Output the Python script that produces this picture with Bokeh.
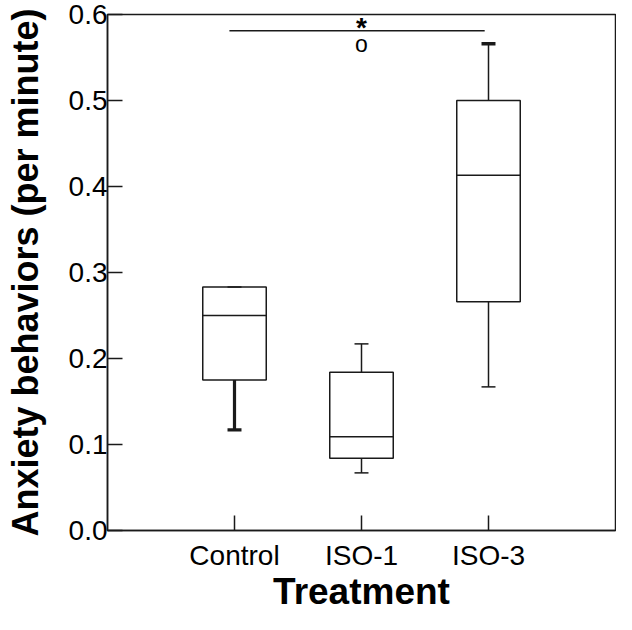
from bokeh.plotting import figure
from bokeh.models import FixedTicker, PrintfTickFormatter, Range1d
from bokeh.core.properties import value
from bokeh.embed import file_html
from bokeh.resources import INLINE

# ---- data ----
categories = ["Control", "ISO-1", "ISO-3"]
positions = [1, 2, 3]
lower_whisker = [0.117, 0.067, 0.167]
q1 = [0.175, 0.084, 0.266]
median = [0.250, 0.109, 0.413]
q3 = [0.283, 0.184, 0.500]
upper_whisker = [0.283, 0.217, 0.566]
outlier_pos = [2]
outlier_val = [0.566]
y_ticks = [0.0, 0.1, 0.2, 0.3, 0.4, 0.5, 0.6]
sig_start = [0.96]
sig_end = [2.97]
sig_level = [0.581]
sig_text = ["*"]
x_title = "Treatment"
y_title = "Anxiety behaviors (per minute)"

# ---- style ----
INK = "#1a1a1a"
LW = 1.5
BOX_HALF = 0.25
CAP_HALF = 0.055
lower_lw = [3.2, LW, LW]
upper_cap_lw = [LW, LW, 3.6]
FONT = "Liberation Sans"

p = figure(width=616, height=614, x_range=Range1d(0, 4), y_range=Range1d(0, 0.6),
           output_backend="svg", toolbar_location=None,
           min_border_left=107, min_border_right=1, min_border_top=14, min_border_bottom=83)

p.background_fill_color = "white"
p.border_fill_color = "white"
p.outline_line_color = INK
p.outline_line_width = LW
p.grid.grid_line_color = None

p.xaxis.ticker = FixedTicker(ticks=positions)
p.xaxis.major_label_overrides = {pos: c for pos, c in zip(positions, categories)}
p.yaxis.ticker = FixedTicker(ticks=y_ticks)
p.yaxis.formatter = PrintfTickFormatter(format="%.1f")

for ax in (p.xaxis[0], p.yaxis[0]):
    ax.axis_line_color = INK
    ax.axis_line_width = LW
    ax.major_tick_in = 15
    ax.major_tick_out = 0
    ax.major_tick_line_color = INK
    ax.major_tick_line_width = LW
    ax.minor_tick_line_color = None
    ax.major_label_text_font = FONT
    ax.major_label_text_font_size = "28px"
    ax.major_label_text_color = "black"
    ax.axis_label_text_font = FONT
    ax.axis_label_text_font_style = "bold"
    ax.axis_label_text_color = "black"

p.xaxis.axis_label = x_title
p.yaxis.axis_label = y_title
p.xaxis.axis_label_text_font_size = "37px"
p.yaxis.axis_label_text_font_size = "36px"
p.xaxis.major_label_standoff = 9
p.xaxis.axis_label_standoff = -3
p.yaxis.major_label_standoff = 0
p.yaxis.axis_label_standoff = 20

# boxes
p.quad(left=[x - BOX_HALF for x in positions], right=[x + BOX_HALF for x in positions],
       bottom=q1, top=q3, fill_color="white", line_color=INK, line_width=LW)
# medians
p.segment(x0=[x - BOX_HALF for x in positions], x1=[x + BOX_HALF for x in positions],
          y0=median, y1=median, line_color=INK, line_width=LW)
# lower whiskers
p.segment(x0=positions, x1=positions, y0=q1, y1=lower_whisker, line_color=INK, line_width=lower_lw)
p.segment(x0=[x - CAP_HALF for x in positions], x1=[x + CAP_HALF for x in positions],
          y0=lower_whisker, y1=lower_whisker, line_color=INK, line_width=lower_lw)
# upper whiskers
p.segment(x0=positions, x1=positions, y0=q3, y1=upper_whisker, line_color=INK, line_width=LW)
p.segment(x0=[x - CAP_HALF for x in positions], x1=[x + CAP_HALF for x in positions],
          y0=upper_whisker, y1=upper_whisker, line_color=INK, line_width=upper_cap_lw)

# outlier
p.text(x=outlier_pos, y=outlier_val, text=["o"] * len(outlier_pos), text_font=value(FONT),
       text_font_size="23px", text_align="center", text_baseline="middle", y_offset=0,
       text_color="black")

# significance bar
p.segment(x0=sig_start, x1=sig_end, y0=sig_level, y1=sig_level, line_color=INK, line_width=LW)
p.text(x=[(a + b) / 2 + 0.035 for a, b in zip(sig_start, sig_end)], y=sig_level, text=sig_text,
       text_font=value(FONT), text_font_size="28px", text_font_style="bold",
       text_align="center", text_baseline="alphabetic", y_offset=-3, text_color="black")

open("out.html", "w").write(file_html(p, INLINE))
